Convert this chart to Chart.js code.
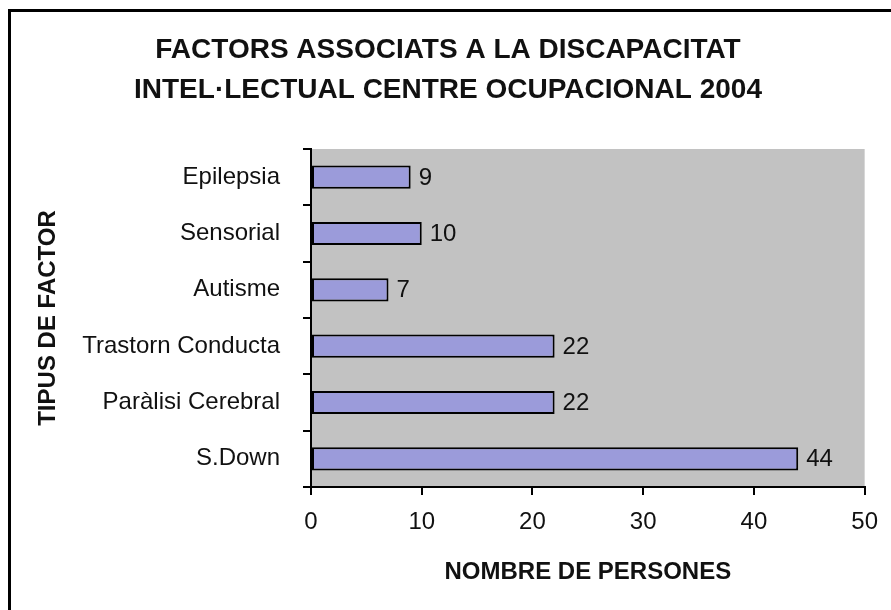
<!DOCTYPE html>
<html>
<head>
<meta charset="utf-8">
<script src="https://cdn.jsdelivr.net/npm/chart.js@4"></script>
<style>
  html, body { margin: 0; padding: 0; background: #fff; }
  #box { width: 891px; height: 610px; }
</style>
</head>
<body>
<div id="box"><canvas id="factors-chart"></canvas></div>
<script>
// categories top to bottom, as in the picture
const labelFactor = ["Epilepsia", "Sensorial", "Autisme", "Trastorn Conducta", "Paràlisi Cerebral", "S.Down"]
const valuePersons = [9, 10, 7, 22, 22, 44]
const xTicks = [0, 10, 20, 30, 40, 50]

const titleLines = ["FACTORS ASSOCIATS A LA DISCAPACITAT", "INTEL·LECTUAL CENTRE OCUPACIONAL 2004"]

const fontMain = "'Liberation Sans', Arial, sans-serif"

// white page, grey plot area and the cropped frame (top + left only)
const backdrop = {
    id: "backdrop",
    beforeDraw(chart) {
        const ctx = chart.ctx
        const a = chart.chartArea
        ctx.save()
        ctx.fillStyle = "#ffffff"
        ctx.fillRect(0, 0, chart.width, chart.height)
        ctx.fillStyle = "#c2c2c2"
        ctx.fillRect(a.left, a.top, a.right - a.left, a.bottom - a.top)
        ctx.strokeStyle = "#000"
        ctx.lineWidth = 3
        ctx.beginPath()
        ctx.moveTo(9.5, chart.height)
        ctx.lineTo(9.5, 10.5)
        ctx.lineTo(chart.width, 10.5)
        ctx.stroke()
        ctx.restore()
    }
}

// value labels at the end of each bar
const barValues = {
    id: "barValues",
    afterDatasetsDraw(chart) {
        const ctx = chart.ctx
        const meta = chart.getDatasetMeta(0)
        ctx.save()
        ctx.fillStyle = "#111"
        ctx.font = "24px " + fontMain
        ctx.textAlign = "left"
        ctx.textBaseline = "middle"
        meta.data.forEach((bar, i) => {
            ctx.fillText(String(valuePersons[i]), bar.x + 8, bar.y + 1)
        })
        ctx.restore()
    }
}

new Chart("factors-chart", {
    type: "bar",
    data: {
        labels: labelFactor,
        datasets: [{
            data: valuePersons,
            backgroundColor: "#9b9bda",
            borderColor: "#000",
            borderWidth: 2,
            borderSkipped: false,
            barPercentage: 0.41,
            categoryPercentage: 1
        }]
    },
    options: {
        indexAxis: "y",
        responsive: true,
        maintainAspectRatio: false,
        animation: false,
        layout: { padding: { left: 30, right: 25, top: 0, bottom: 0 } },
        plugins: {
            legend: { display: false },
            tooltip: { enabled: false },
            title: {
                display: true,
                text: titleLines,
                color: "#111",
                font: { family: fontMain, size: 28, weight: "bold", lineHeight: 40 / 28 },
                padding: { top: 30, bottom: 39 }
            }
        },
        scales: {
            x: {
                min: 0,
                max: 50,
                afterBuildTicks(scale) {
                    scale.ticks = xTicks.map(v => ({ value: v }))
                },
                afterFit(scale) { scale.height = 123 },
                grid: { drawOnChartArea: false, tickLength: 8, color: "#000", lineWidth: 2 },
                border: { display: true, color: "#000", width: 2 },
                ticks: { color: "#111", padding: 13, font: { family: fontMain, size: 24 } },
                title: {
                    display: true,
                    text: "NOMBRE DE PERSONES",
                    color: "#111",
                    font: { family: fontMain, size: 24, weight: "bold" },
                    padding: { bottom: 23 }
                }
            },
            y: {
                afterFit(scale) { scale.width = 281 },
                grid: { drawOnChartArea: false, offset: true, tickLength: 8, color: "#000", lineWidth: 2 },
                border: { display: true, color: "#000", width: 2 },
                ticks: { color: "#111", padding: 23, font: { family: fontMain, size: 24 } },
                title: {
                    display: true,
                    text: "TIPUS DE FACTOR",
                    color: "#111",
                    font: { family: fontMain, size: 24, weight: "bold" },
                    padding: { top: 4 }
                }
            }
        }
    },
    plugins: [backdrop, barValues]
})
</script>
</body>
</html>
